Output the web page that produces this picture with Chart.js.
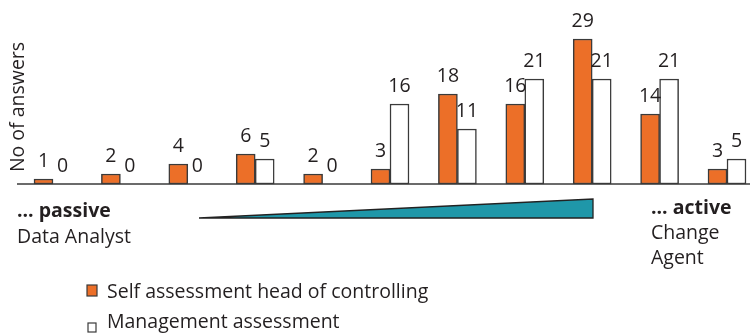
<!DOCTYPE html>
<html>
<head>
<meta charset="utf-8">
<script src="https://cdn.jsdelivr.net/npm/chart.js@4.4.1/dist/chart.umd.min.js"></script>
<style>
  html, body { margin: 0; padding: 0; background: #fff; overflow: hidden; }
  #wrap { width: 750px; height: 334px; position: relative; }
</style>
</head>
<body>
<div id="wrap"><canvas id="barChart" width="750" height="334"></canvas></div>
<script>
// scale from passive (1) to active (11)
const levels = ["1", "2", "3", "4", "5", "6", "7", "8", "9", "10", "11"];
const selfAssessment = [1, 2, 4, 6, 2, 3, 18, 16, 29, 14, 3];
const managementAssessment = [0, 0, 0, 5, 0, 16, 11, 21, 21, 21, 5];
const seriesNames = ["Self assessment head of controlling", "Management assessment"];

const FONT = '"Open Sans", "Noto Sans", sans-serif';
const TEXT = "#231f20";
const EDGE = "#3a3a3a";

// values above bars, axis line, titles, gradient wedge and legend
const decorations = {
    id: "decorations",
    afterDatasetsDraw(chart) {
        const ctx = chart.ctx;
        const y0 = chart.scales.y.getPixelForValue(0);
        ctx.save();

        ctx.strokeStyle = EDGE;
        ctx.lineWidth = 1.5;
        ctx.beginPath();
        ctx.moveTo(17, y0);
        ctx.lineTo(750, y0);
        ctx.stroke();

        ctx.fillStyle = TEXT;
        ctx.font = "19.5px " + FONT;
        ctx.textAlign = "center";
        ctx.textBaseline = "alphabetic";
        chart.data.datasets.forEach((ds, i) => {
            chart.getDatasetMeta(i).data.forEach((bar, j) => {
                ctx.fillText(String(ds.data[j]), bar.x, bar.y - 12.5);
            });
        });

        // y title
        ctx.save();
        ctx.translate(24, 107);
        ctx.rotate(-Math.PI / 2);
        ctx.fillText("No of answers", 0, 0);
        ctx.restore();

        // wedge
        ctx.fillStyle = "#1f97a9";
        ctx.strokeStyle = "#222";
        ctx.lineWidth = 1.3;
        ctx.beginPath();
        ctx.moveTo(199, 218);
        ctx.lineTo(593, 199);
        ctx.lineTo(593, 218);
        ctx.closePath();
        ctx.fill();
        ctx.stroke();

        ctx.fillStyle = TEXT;
        ctx.textAlign = "left";
        ctx.font = "bold 19.5px " + FONT;
        ctx.fillText("... passive", 17, 217);
        ctx.fillText("... active", 651, 214);
        ctx.font = "19.5px " + FONT;
        ctx.fillText("Data Analyst", 17, 243);
        ctx.fillText("Change", 651, 239);
        ctx.fillText("Agent", 651, 264);

        // legend
        ctx.lineWidth = 1.2;
        ctx.strokeStyle = EDGE;
        ctx.fillStyle = chart.data.datasets[0].backgroundColor;
        ctx.fillRect(87, 285, 10, 11);
        ctx.strokeRect(87, 285, 10, 11);
        ctx.fillStyle = chart.data.datasets[1].backgroundColor;
        ctx.fillRect(88, 323, 8, 9);
        ctx.strokeRect(88, 323, 8, 9);
        ctx.fillStyle = TEXT;
        ctx.fillText(chart.data.datasets[0].label, 107, 298);
        ctx.fillText(chart.data.datasets[1].label, 107, 328);

        ctx.restore();
    }
};

new Chart(document.getElementById("barChart"), {
    type: "bar",
    data: {
        labels: levels,
        datasets: [{
            label: seriesNames[0],
            data: selfAssessment,
            backgroundColor: "#ec6f28",
            borderColor: EDGE,
            borderWidth: 1.5,
            borderSkipped: false,
            barThickness: 19,
            clip: false
        }, {
            label: seriesNames[1],
            data: managementAssessment,
            backgroundColor: "#ffffff",
            borderColor: EDGE,
            borderWidth: 1.5,
            borderSkipped: false,
            barThickness: 19,
            clip: false
        }]
    },
    options: {
        responsive: false,
        animation: false,
        layout: { padding: { left: 53, right: 23, top: 19, bottom: 150 } },
        scales: {
            x: { display: false, offset: false },
            y: { display: false, min: 0, max: 33 }
        },
        plugins: {
            legend: { display: false },
            tooltip: { enabled: false }
        }
    },
    plugins: [decorations]
});
</script>
</body>
</html>
